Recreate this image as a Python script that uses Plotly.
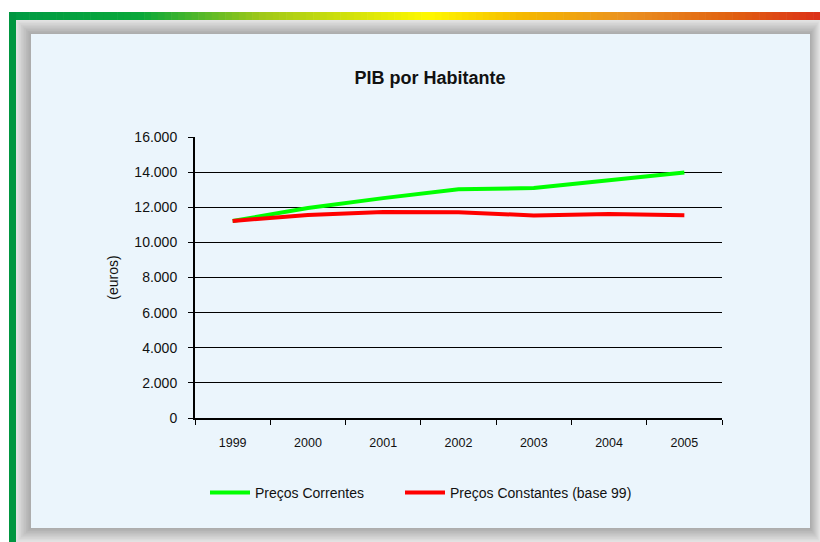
import plotly.graph_objects as go

# PIB por habitante (euros)
anos = ["1999", "2000", "2001", "2002", "2003", "2004", "2005"]
precos_correntes = [11220, 11960, 12520, 13030, 13090, 13560, 13980]
precos_constantes = [11220, 11560, 11730, 11720, 11530, 11620, 11550]

W, H = 820, 542
ML, MR, MT, MB = 195, 98, 137, 124
PW, PH = W - ML - MR, H - MT - MB


def px(x):
    return (x - ML) / PW


def py(y):
    return (H - MB - y) / PH


def hex2rgb(h):
    h = h.lstrip("#")
    return tuple(int(h[i:i + 2], 16) for i in (0, 2, 4))


def lerp_color(stops, x):
    for (x0, c0), (x1, c1) in zip(stops, stops[1:]):
        if x0 <= x <= x1:
            t = (x - x0) / (x1 - x0) if x1 > x0 else 0
            a, b = hex2rgb(c0), hex2rgb(c1)
            r = [round(a[i] + (b[i] - a[i]) * t) for i in range(3)]
            return "rgb(%d,%d,%d)" % tuple(r)
    return stops[-1][1]


shapes = []


def rect(x0, y0, x1, y1, color):
    shapes.append(dict(type="rect", xref="paper", yref="paper",
                       x0=px(x0), x1=px(x1), y0=py(y1), y1=py(y0),
                       fillcolor=color, line=dict(width=0), layer="below"))


# top colour band
band = [(9, "#009A44"), (141, "#0AA83A"), (262, "#A0C818"), (429, "#FFF800"),
        (523, "#F5B800"), (628, "#EA9020"), (733, "#E06010"), (820, "#DC3018")]
n = 120
for i in range(n):
    xa = 9 + (820 - 9) * i / n
    xb = 9 + (820 - 9) * (i + 1) / n + 0.6
    rect(xa, 12, xb, 20, lerp_color(band, (xa + xb) / 2))

# left green bar
rect(9, 12, 16, 542, "#009640")

# bevelled grey frame
steps = 10
for k in range(steps):
    t = k / (steps - 1)
    x0 = 16 + (31 - 16) * t
    y0 = 20 + (34 - 20) * t
    x1 = 820 + (810 - 820) * t
    y1 = 542 + (528 - 542) * t
    g = round(0xE2 + (0xA6 - 0xE2) * t)
    rect(x0, y0, x1, y1, "rgb(%d,%d,%d)" % (g, g, g))

# inner panel
rect(31, 34, 810, 528, "#EBF5FC")

fig = go.Figure()
fig.add_trace(go.Scatter(x=anos, y=precos_correntes, mode="lines",
                         name="Preços Correntes", legend="legend",
                         line=dict(color="#00FF00", width=4)))
fig.add_trace(go.Scatter(x=anos, y=precos_constantes, mode="lines",
                         name="Preços Constantes (base 99)", legend="legend2",
                         line=dict(color="#FF0000", width=4)))

font = "Liberation Sans, Arial, sans-serif"
legend_style = dict(orientation="h", xanchor="left", y=py(493), yanchor="middle",
                    bgcolor="rgba(0,0,0,0)", itemwidth=40,
                    font=dict(family=font, size=14, color="#111"))

fig.update_layout(
    width=W, height=H,
    margin=dict(l=ML, r=MR, t=MT, b=MB, pad=0),
    paper_bgcolor="white",
    plot_bgcolor="rgba(0,0,0,0)",
    separators=",.",
    font=dict(family=font, size=14, color="#111"),
    shapes=shapes,
    showlegend=True,
    title=dict(text="<b>PIB por Habitante</b>", x=430 / W, xanchor="center",
               y=1 - 78 / H, yanchor="middle",
               font=dict(family=font, size=18, color="#111")),
    legend=dict(x=px(205), **legend_style),
    legend2=dict(x=px(400), **legend_style),
    xaxis=dict(type="category", range=[-0.5, 6.5], showline=True,
               linecolor="black", linewidth=2,
               ticks="outside", tickson="boundaries", ticklen=5, tickcolor="black",
               tickwidth=1, showgrid=False, tickfont=dict(size=12.5),
               ticklabelstandoff=12, fixedrange=True),
    yaxis=dict(range=[0, 16000], dtick=2000, tickformat=",d",
               showline=True, linecolor="black", linewidth=2,
               ticks="outside", ticklen=5, tickcolor="black", tickwidth=1,
               showgrid=True, gridcolor="black", gridwidth=1,
               zeroline=False, tickfont=dict(size=14), ticklabelstandoff=8,
               title=dict(text="(euros)", standoff=12, font=dict(size=14)),
               fixedrange=True),
)

fig.write_html("out.html")
